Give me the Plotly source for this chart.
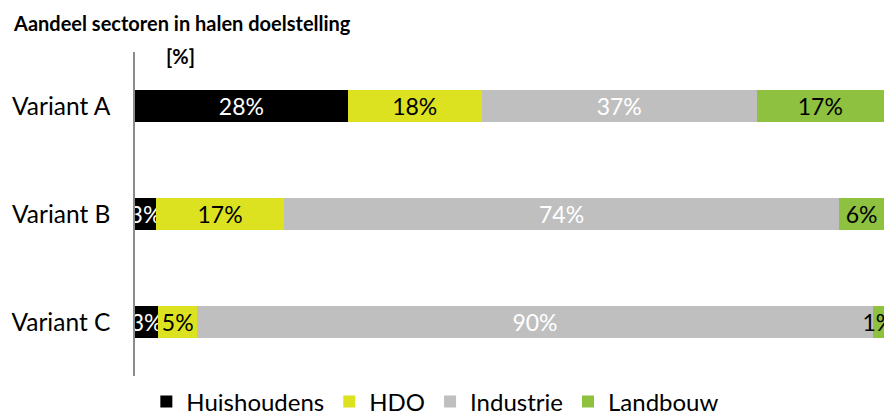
import plotly.graph_objects as go

# data
variants = ["Variant A", "Variant B", "Variant C"]
sectors = ["Huishoudens", "HDO", "Industrie", "Landbouw"]
huishoudens = [28.4, 2.8, 3.1]
hdo = [17.9, 17.1, 5.2]
industrie = [36.7, 74.1, 90.2]
landbouw = [17.0, 6.0, 1.5]
labels_pct = [
    ["28%", "3%", "3%"],
    ["18%", "17%", "5%"],
    ["37%", "74%", "90%"],
    ["17%", "6%", "1%"],
]

colors = ["#000000", "#DCE21F", "#BFBFBF", "#8DC13F"]
text_colors = ["#FFFFFF", "#000000", "#FFFFFF", "#000000"]
font_family = "Lato, Open Sans, sans-serif"

# the page body adds an 8px offset; the figure is a bit taller than the
# visible window so the legend never pushes the plot margins
W, H = 888, 440
L, R, T = 127, 12, 44
PH = H - T               # paper height (bottom margin 0)
plot_w = W - L - R

def py(fig_y):
    # figure pixel y -> paper fraction
    return (H - fig_y) / PH

fig = go.Figure()
for name, vals, txt, col, tcol in zip(
    sectors, [huishoudens, hdo, industrie, landbouw], labels_pct, colors, text_colors
):
    fig.add_trace(go.Bar(
        y=variants,
        x=vals,
        name=name,
        orientation="h",
        marker=dict(color=col, line=dict(width=0)),
        text=txt,
        textposition="inside",
        insidetextanchor="middle",
        textangle=0,
        constraintext="none",
        textfont=dict(color=tcol, size=23, family=font_family),
        hoverinfo="x+name",
    ))

fig.update_layout(
    barmode="stack",
    bargap=0.71,
    width=W,
    height=H,
    margin=dict(l=L, r=R, t=T, b=0, pad=0),
    plot_bgcolor="white",
    paper_bgcolor="white",
    font=dict(family=font_family, color="#000000"),
    showlegend=True,
    legend=dict(
        orientation="h",
        x=0.401, xanchor="center",
        y=py(394), yanchor="middle",
        font=dict(size=24, family=font_family),
        traceorder="normal",
        itemwidth=30,
        tracegroupgap=0,
    ),
    xaxis=dict(
        range=[0, 100],
        showticklabels=False,
        showgrid=False,
        zeroline=False,
        showline=False,
        ticks="",
        automargin=False,
    ),
    yaxis=dict(
        domain=[py(368), 1],
        autorange="reversed",
        showgrid=False,
        zeroline=False,
        showline=True,
        linecolor="#8C8C8C",
        linewidth=1.5,
        ticks="",
        tickfont=dict(size=24.5, family=font_family),
        ticklabelstandoff=18,
        automargin=False,
    ),
    annotations=[
        dict(
            text="<b>Aandeel sectoren in halen doelstelling</b>",
            xref="paper", yref="paper",
            x=(3 - L) / plot_w, y=py(15),
            xanchor="left", yanchor="middle",
            showarrow=False,
            font=dict(size=20, family=font_family),
        ),
        dict(
            text="<b>[%]</b>",
            xref="paper", yref="paper",
            x=(156 - L) / plot_w, y=py(48),
            xanchor="left", yanchor="middle",
            showarrow=False,
            font=dict(size=20, family=font_family),
        ),
    ],
)

fig.write_html("out.html")
